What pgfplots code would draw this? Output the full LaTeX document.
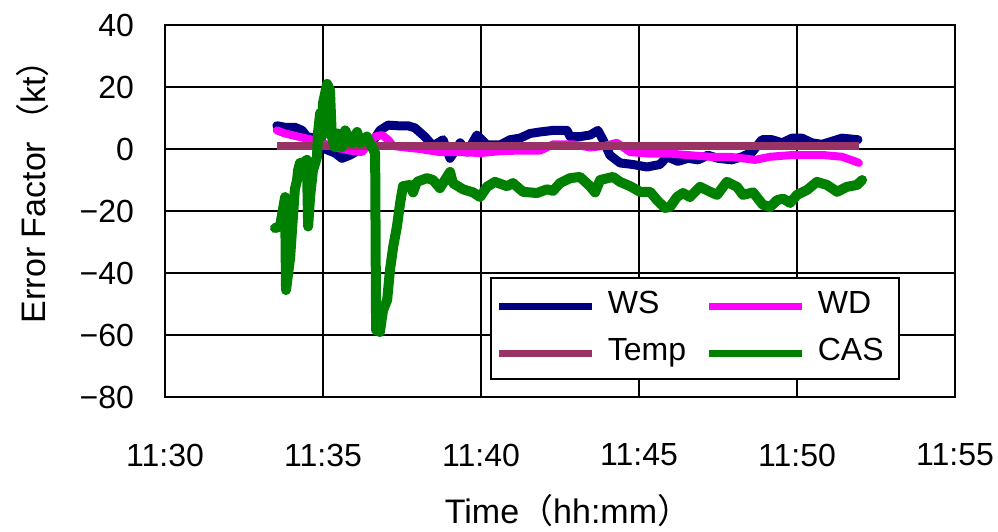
\documentclass[border=0pt]{standalone}
\usepackage{fontspec}
\setmainfont{Liberation Sans}
\newfontfamily\cjk{Noto Sans CJK JP}
\usepackage{pgfplots}
\pgfplotsset{compat=1.18}
\newcommand{\fs}{\fontsize{16}{19}\selectfont}
\newcommand{\fl}{\fontsize{17}{20}\selectfont}
\definecolor{wscol}{HTML}{000080}
\definecolor{wdcol}{HTML}{FF00FF}
\definecolor{tempcol}{HTML}{993366}
\definecolor{cascol}{HTML}{008000}
\begin{document}
\begin{tikzpicture}
\begin{axis}[
  name=ax,
  scale only axis, width=395pt, height=186pt,
  xmin=30, xmax=55, ymin=-80, ymax=40,
  xtick={30,35,...,55},
  xticklabels={11:30,11:35,11:40,11:45,11:50,11:55},
  ytick={-80,-60,...,40},
  yticklabels={−80,−60,−40,−20,0,20,40},
  grid=major,
  major grid style={black, line width=1.2pt},
  axis line style={black, line width=1.2pt},
  major tick length=0pt,
  tick label style={font=\fs},
  xticklabel style={anchor=center, yshift=-29pt},
  yticklabel style={anchor=east, xshift=-12pt},
  xlabel={Time{\cjk（}hh:mm{\cjk）}},
  ylabel={Error Factor\hspace{2pt}{\cjk（}kt{\cjk）}},
  every axis x label/.style={at={(rel axis cs:0.5,0)}, anchor=base, xshift=4pt, yshift=-63pt, font=\fl},
  every axis y label/.style={at={(rel axis cs:0,0.575)}, xshift=-59.5pt, rotate=90, anchor=base, font=\fl},
  legend columns=2,
  legend style={at={(rel axis cs:0.411,0.3226)}, anchor=north west,
    draw=black, line width=1.2pt, fill=white,
    inner xsep=2.5pt, inner ysep=6pt, font=\fs,
    column sep=6pt, row sep=8.5pt,
    nodes={inner sep=0pt, text height=11.5pt, text depth=3.5pt, anchor=base west}},
  legend image code/.code={\draw[#1, line width=3.5pt, line cap=butt] (0pt,0.36em) -- (46.5pt,0.36em);},
  every axis plot/.append style={line join=round, line cap=round},
]
% wind speed error
\addplot[wscol, line width=4.5pt] coordinates {
(33.54,7.5) (33.80,7.0) (34.11,7.0) (34.34,6.0) (34.49,4.0) (34.75,3.5)
(35.06,0) (35.38,-1.3) (35.60,-3) (35.85,-2) (36.11,-0.5) (36.55,2)
(36.80,6) (37.06,7.7) (37.37,7.5) (37.69,7.5) (37.91,6.8) (38.23,3.9)
(38.48,1) (38.80,3) (39.02,-3) (39.34,2) (39.56,-1) (39.87,4.5)
(40.19,1.3) (40.60,1.3) (40.92,3) (41.23,3.5) (41.55,5) (41.87,5.5)
(42.28,6) (42.72,6) (42.82,4) (43.13,4) (43.45,4.5) (43.70,6)
(43.86,3) (44.08,-2) (44.40,-4.5) (44.81,-5) (45.25,-5.8) (45.66,-5)
(45.89,-2.5) (46.23,-4) (46.55,-3) (46.87,-3.5) (47.18,-2) (47.50,-3)
(47.94,-3.5) (48.26,-2.5) (48.58,-1) (48.89,3) (49.21,3) (49.53,2)
(49.84,3.5) (50.16,3.5) (50.47,2) (50.79,1.5) (51.11,2.5) (51.42,3.5)
(51.93,3)
};
% wind direction error
\addplot[wdcol, line width=4pt] coordinates {
(33.54,6) (33.80,5) (34.21,4) (34.65,3) (34.97,2) (35.38,0.5)
(35.85,-0.5) (36.23,-1) (36.65,4) (36.87,4.5) (37.06,3) (37.22,1)
(37.59,0.5) (38.07,0) (38.70,-1) (39.34,-1) (39.97,-1.3) (40.60,-0.7)
(41.23,-0.5) (41.87,-0.5) (42.28,1.5) (42.91,1.5) (43.45,0.5) (43.92,1)
(44.30,2) (44.72,-1) (45.35,-1.5) (45.98,-1.5) (46.61,-2) (47.25,-2.5)
(47.88,-2.5) (48.67,-3.5) (49.15,-2.5) (49.78,-2) (50.41,-2) (50.89,-2)
(51.42,-2.5) (51.84,-4) (51.96,-4.5)
};
% temperature error
\addplot[tempcol, line width=3.8pt, line cap=butt] coordinates {
(33.54,1) (51.96,1)
};
% calibrated airspeed error
\addplot[cascol, line width=5pt] coordinates {
(33.48,-25.5) (33.64,-25) (33.80,-15.5) (33.83,-45.5) (33.96,-35) (34.02,-26)
(34.11,-13) (34.18,-10) (34.21,-7) (34.27,-4.5) (34.37,-4.5) (34.49,-3.5)
(34.53,-25) (34.59,-15.5) (34.68,-7) (34.81,-2.6) (34.84,5) (34.91,11.6)
(34.97,4) (35.00,14.8) (35.13,21) (35.22,19) (35.28,4) (35.38,0.6)
(35.47,5) (35.60,0.6) (35.70,6) (35.79,4) (35.92,2) (36.08,5.5)
(36.17,2) (36.39,4) (36.55,0.6) (36.65,-1.3) (36.68,-58.4) (36.80,-59)
(36.90,-52) (37.03,-48.7) (37.12,-39) (37.22,-31.6) (37.34,-25) (37.44,-17.5)
(37.53,-12) (37.75,-11.6) (37.85,-14) (37.97,-10.6) (38.29,-9.4) (38.48,-10)
(38.70,-12.6) (39.02,-7.4) (39.11,-11) (39.43,-13) (39.75,-14) (39.97,-15.5)
(40.19,-12.2) (40.44,-10.6) (40.82,-12) (41.01,-11) (41.33,-13.8) (41.77,-14.2)
(42.09,-13) (42.28,-13.5) (42.50,-11) (42.82,-9.4) (43.13,-9) (43.45,-12)
(43.61,-14) (43.77,-10) (44.18,-9) (44.40,-10.6) (44.72,-12) (45.03,-13.8)
(45.35,-13.8) (45.57,-16.5) (45.82,-19) (45.98,-18.7) (46.20,-15.5) (46.39,-14.2)
(46.61,-15.5) (46.93,-12.2) (47.25,-13.8) (47.47,-14.8) (47.78,-10.6) (48.10,-12.2)
(48.29,-14.8) (48.61,-14) (48.92,-18) (49.15,-18.7) (49.37,-16.5) (49.56,-16)
(49.78,-17.4) (50.00,-14.8) (50.32,-13.2) (50.63,-10.6) (50.95,-11.6) (51.27,-13.8)
(51.58,-12.2) (51.90,-11.6) (52.06,-10)
};
\legend{\makebox[43pt][l]{WS}, \makebox[38pt][l]{WD}, \makebox[43pt][l]{Temp}, \makebox[38pt][l]{CAS}}
\end{axis}
\pgfresetboundingbox
\path[use as bounding box] ([xshift=-82.5pt,yshift=-67pt]ax.south west) rectangle ([xshift=21.5pt,yshift=12.5pt]ax.north east);
\end{tikzpicture}
\end{document}
